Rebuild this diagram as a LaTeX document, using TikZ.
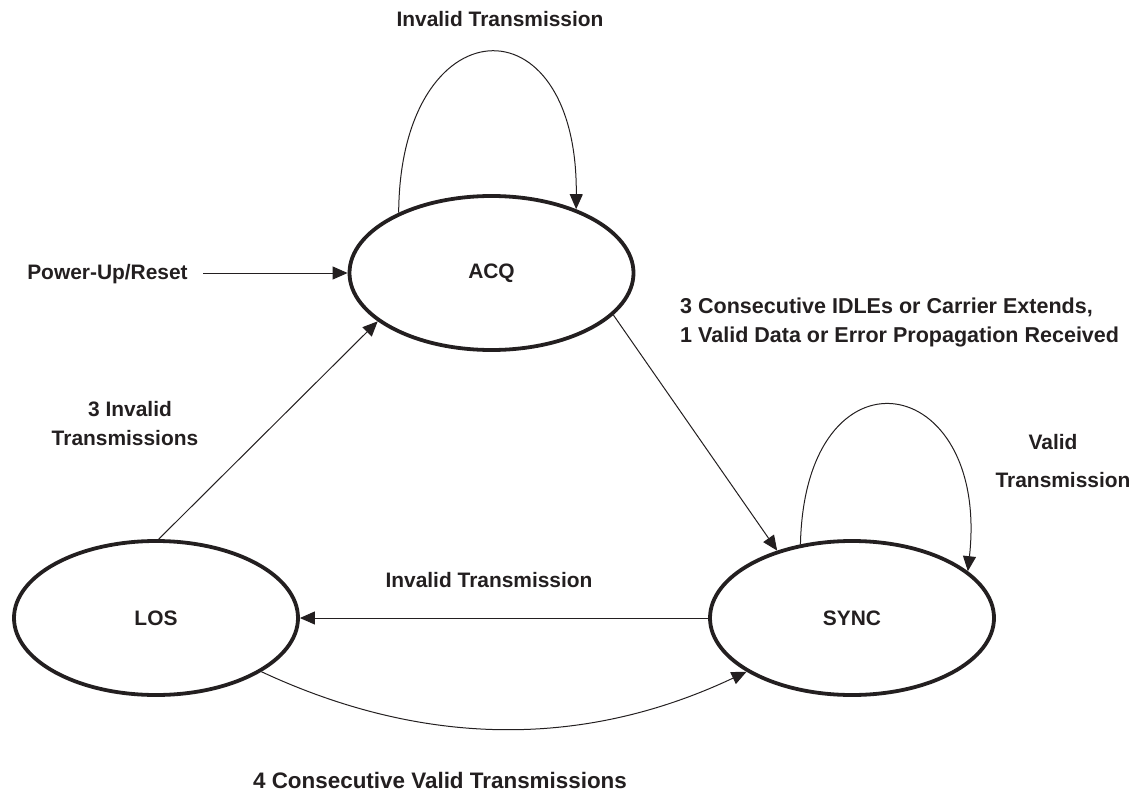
\documentclass[tikz,border=0pt]{standalone}
\usepackage{fontspec}
\setmainfont{Liberation Sans}
\usetikzlibrary{arrows.meta,shapes.geometric}
\definecolor{ink}{HTML}{231F20}
\begin{document}
\begin{tikzpicture}[x=1bp,y=-1bp,
  state/.style={ellipse, draw=ink, line width=3.8bp, minimum width=284bp, minimum height=154bp, inner sep=0pt, text=ink, font=\fontsize{21}{24}\selectfont\bfseries},
  lbl/.style={font=\fontsize{21}{24}\selectfont\bfseries, text=ink, inner sep=0pt, anchor=base},
  big/.style={font=\fontsize{21.6}{24}\selectfont\bfseries},
  bigger/.style={font=\fontsize{22.5}{24}\selectfont\bfseries},
  conn/.style={draw=ink, line width=1bp, -{Triangle[length=15bp,width=13bp]}},
]
\useasboundingbox (0,0) rectangle (1139,796);

\node[state] (ACQ) at (491.5,273) {ACQ};
\node[state] (SYNC) at (852,618) {SYNC};
\node[state] (LOS) at (156,618) {LOS};

\coordinate (pw) at (203,273);

\node[lbl] (lPower) at (107.5,279) {Power-Up/Reset};
\node[lbl] (lTop) at (500,27) {Invalid Transmission};
\node[lbl, big, anchor=base west] (lCons1) at (680,313) {3 Consecutive IDLEs or Carrier Extends,};
\node[lbl, big, anchor=base west] (lCons2) at (680,342) {1 Valid Data or Error Propagation Received};
\node[lbl] (lInv3a) at (130,416) {3 Invalid};
\node[lbl] (lInv3b) at (125,445) {Transmissions};
\node[lbl] (lValA) at (1053,449) {Valid};
\node[lbl] (lValB) at (1063,487) {Transmission};
\node[lbl] (lMid) at (489,587) {Invalid Transmission};
\node[lbl, bigger] (lBot) at (440,788) {4 Consecutive Valid Transmissions};

\draw[conn] (pw) -- (ACQ.west);
\draw[conn] (ACQ.147) .. controls (400,5) and (578,-5) .. (ACQ.37);
\draw[conn] (ACQ.-19) -- (SYNC.138);
\draw[conn] (SYNC.125) .. controls (805,340) and (990,370) .. (SYNC.22);
\draw[conn] (SYNC.west) -- (LOS.east);
\draw[conn] (LOS.88) -- (ACQ.203);
\draw[conn] (LOS.-27) .. controls (425,748) and (585,748) .. (SYNC.-153);
\end{tikzpicture}
\end{document}
